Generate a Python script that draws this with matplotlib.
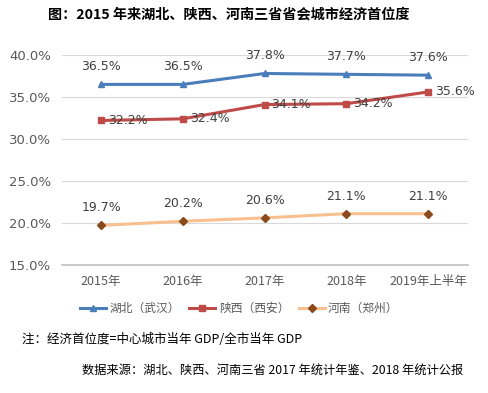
import matplotlib.pyplot as plt
import numpy as np

plt.rcParams['font.family'] = ['Noto Sans CJK SC', 'DejaVu Sans']

# data
years = ['2015年', '2016年', '2017年', '2018年', '2019年上半年']
hubei = [36.5, 36.5, 37.8, 37.7, 37.6]
shaanxi = [32.2, 32.4, 34.1, 34.2, 35.6]
henan = [19.7, 20.2, 20.6, 21.1, 21.1]

fig = plt.figure(figsize=(4.88, 3.93), dpi=100)
ax = fig.add_axes([0.127, 0.326, 0.832, 0.534])

x = np.arange(len(years))
ax.plot(x, hubei, color='#4A7EBB', lw=2.2, marker='^', ms=5, label='湖北（武汉）')
ax.plot(x, shaanxi, color='#BE4B48', lw=2.2, marker='s', ms=5, label='陕西（西安）')
ax.plot(x, henan, color='#F9C08F', lw=2.2, marker='D', ms=4,
        mfc='#8B4A1C', mec='#8B4A1C', label='河南（郑州）')

txt = '#404040'
for i in x:
    ax.annotate(f'{hubei[i]:.1f}%', (i, hubei[i]), xytext=(0, 8), textcoords='offset points',
                ha='center', va='bottom', fontsize=9, color=txt, family='DejaVu Sans')
    ax.annotate(f'{shaanxi[i]:.1f}%', (i, shaanxi[i]), xytext=(5, 0), textcoords='offset points',
                ha='left', va='center', fontsize=9, color=txt, family='DejaVu Sans')
    ax.annotate(f'{henan[i]:.1f}%', (i, henan[i]), xytext=(0, 8), textcoords='offset points',
                ha='center', va='bottom', fontsize=9, color=txt, family='DejaVu Sans')

ax.set_xlim(-0.48, 4.49)
ax.set_ylim(15, 40)
ax.set_yticks([15, 20, 25, 30, 35, 40])
ax.set_yticklabels([f'{v:.1f}%' for v in [15, 20, 25, 30, 35, 40]], family='DejaVu Sans')
ax.set_xticks(x)
ax.set_xticklabels(years)
ax.tick_params(axis='y', length=0, labelsize=9.5, colors='#595959', pad=8)
ax.tick_params(axis='x', length=0, labelsize=9, colors='#595959', pad=7)
ax.grid(axis='y', color='#D9D9D9', lw=0.8)
ax.set_axisbelow(True)
for s in ['top', 'right', 'left']:
    ax.spines[s].set_visible(False)
ax.spines['bottom'].set_color('#BFBFBF')
ax.spines['bottom'].set_linewidth(1.2)

fig.legend(loc='center', bbox_to_anchor=(0.49, 0.215), ncol=3, frameon=False,
           fontsize=8.5, handlelength=2.2, handletextpad=0.3, columnspacing=0.8,
           labelcolor='#595959')

fig.text(0.469, 0.962, '图：2015 年来湖北、陕西、河南三省省会城市经济首位度',
         ha='center', va='center', fontsize=10.2, fontweight='bold')
fig.text(0.045, 0.137, '注：经济首位度=中心城市当年 GDP/全市当年 GDP',
         ha='left', va='center', fontsize=9)
fig.text(0.949, 0.058, '数据来源：湖北、陕西、河南三省 2017 年统计年鉴、2018 年统计公报',
         ha='right', va='center', fontsize=8.8)

fig.savefig('out.png', dpi=100)
